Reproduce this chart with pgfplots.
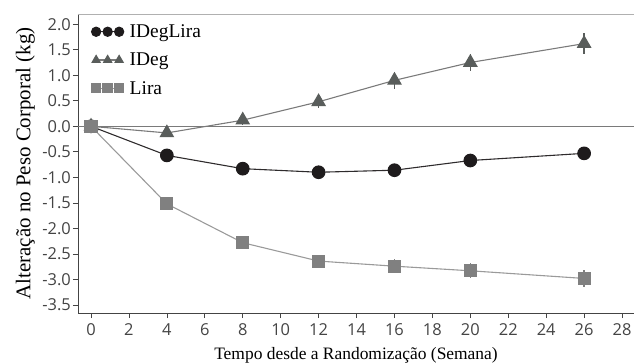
\documentclass[border=0pt]{standalone}
\usepackage{pgfplots}
\pgfplotsset{compat=1.18}
\usepackage{fontspec}
\setmainfont{Liberation Serif}
\newfontfamily\ticksans{Open Sans}

\definecolor{cDL}{HTML}{1E1B1C}
\definecolor{cDLline}{HTML}{2E2B2C}
\definecolor{cD}{HTML}{595D5B}
\definecolor{cDline}{HTML}{7A7A7A}
\definecolor{cL}{HTML}{808080}
\definecolor{cLline}{HTML}{9A9A9A}
\definecolor{tickgray}{HTML}{444444}
\definecolor{framegray}{HTML}{B0B0B0}

\begin{document}
\begin{tikzpicture}
\begin{axis}[
  scale only axis,
  width=556bp, height=299bp,
  xmin=-0.686, xmax=28.63,
  ymin=-3.657, ymax=2.2,
  xtick={0,2,...,28},
  ytick={-3.5,-3,...,2},
  tick align=outside,
  xtick pos=bottom, ytick pos=left,
  major tick length=5bp,
  tick style={tickgray, line width=0.7pt},
  axis line style={draw=none},
  /pgf/number format/assume math mode=true,
  ticklabel style={font=\ticksans\fontsize{16.5}{18}\selectfont, text=tickgray},
  xticklabel style={inner sep=1bp, yshift=-4bp},
  yticklabel style={inner sep=1bp, xshift=-1bp,
    /pgf/number format/.cd, fixed, fixed zerofill, precision=1},
  xlabel={Tempo desde a Randomização (Semana)},
  ylabel={Alteração no Peso Corporal (kg)},
  xlabel style={font=\fontsize{17.5}{19}\selectfont, yshift=-8bp},
  ylabel style={font=\fontsize{21}{23}\selectfont, yshift=3bp},
  legend style={at={(rel axis cs:0.024,0.972)}, anchor=north west, draw=none, fill=none,
    font=\fontsize{19.5}{21}\selectfont, row sep=10bp, column sep=4bp, inner sep=0bp,
    nodes={inner sep=2bp}},
  legend cell align=left,
  legend image code/.code={
    \draw[#1, mark size=4.6bp] plot coordinates {(0bp,0bp) (11.5bp,0bp) (23bp,0bp)};
  },
  clip=false,
]
% frame: left and bottom spines, light top rule, zero reference line
\draw[tickgray, line width=0.9pt] (rel axis cs:0,1) -- (rel axis cs:0,0) -- (rel axis cs:1,0);
\draw[framegray, line width=0.9pt] (rel axis cs:0,1) -- (rel axis cs:1,1);
\draw[cDline, line width=0.8pt] (axis cs:-0.686,0) -- (axis cs:28.63,0);
\coordinate (ll) at (rel axis cs:0,0);
\coordinate (ur) at (rel axis cs:1,1);

\addplot[cDLline, line width=1.1pt, mark=*, mark size=6.3bp,
  mark options={fill=cDL, draw=cDL},
  error bars/.cd, y dir=both, y explicit, error bar style={cDL, line width=1.1pt}, error mark=none]
  coordinates {(0,0) +- (0,0) (4,-0.57) +- (0,0.06) (8,-0.83) +- (0,0.06) (12,-0.90) +- (0,0.06)
    (16,-0.86) +- (0,0.07) (20,-0.67) +- (0,0.07) (26,-0.53) +- (0,0.08)};
\addlegendentry{IDegLira}

\addplot[cDline, line width=1.1pt, mark=triangle*, mark size=7.5bp,
  mark options={fill=cD, draw=cD},
  error bars/.cd, y dir=both, y explicit, error bar style={cD, line width=1.3pt}, error mark=none]
  coordinates {(0,0) +- (0,0) (4,-0.13) +- (0,0.08) (8,0.12) +- (0,0.10) (12,0.48) +- (0,0.13)
    (16,0.90) +- (0,0.16) (20,1.25) +- (0,0.17) (26,1.62) +- (0,0.20)};
\addlegendentry{IDeg}

\addplot[cLline, line width=1.1pt, mark=square*, mark size=6bp,
  mark options={fill=cL, draw=cL},
  error bars/.cd, y dir=both, y explicit, error bar style={cL, line width=1.3pt}, error mark=none]
  coordinates {(0,0) +- (0,0) (4,-1.52) +- (0,0.08) (8,-2.28) +- (0,0.10) (12,-2.64) +- (0,0.12)
    (16,-2.74) +- (0,0.14) (20,-2.83) +- (0,0.15) (26,-2.98) +- (0,0.17)};
\addlegendentry{Lira}
\end{axis}
\pgfresetboundingbox
\path[use as bounding box] ([shift={(-78bp,-50bp)}]ll) rectangle ([shift={(0bp,14bp)}]ur);
\end{tikzpicture}
\end{document}
